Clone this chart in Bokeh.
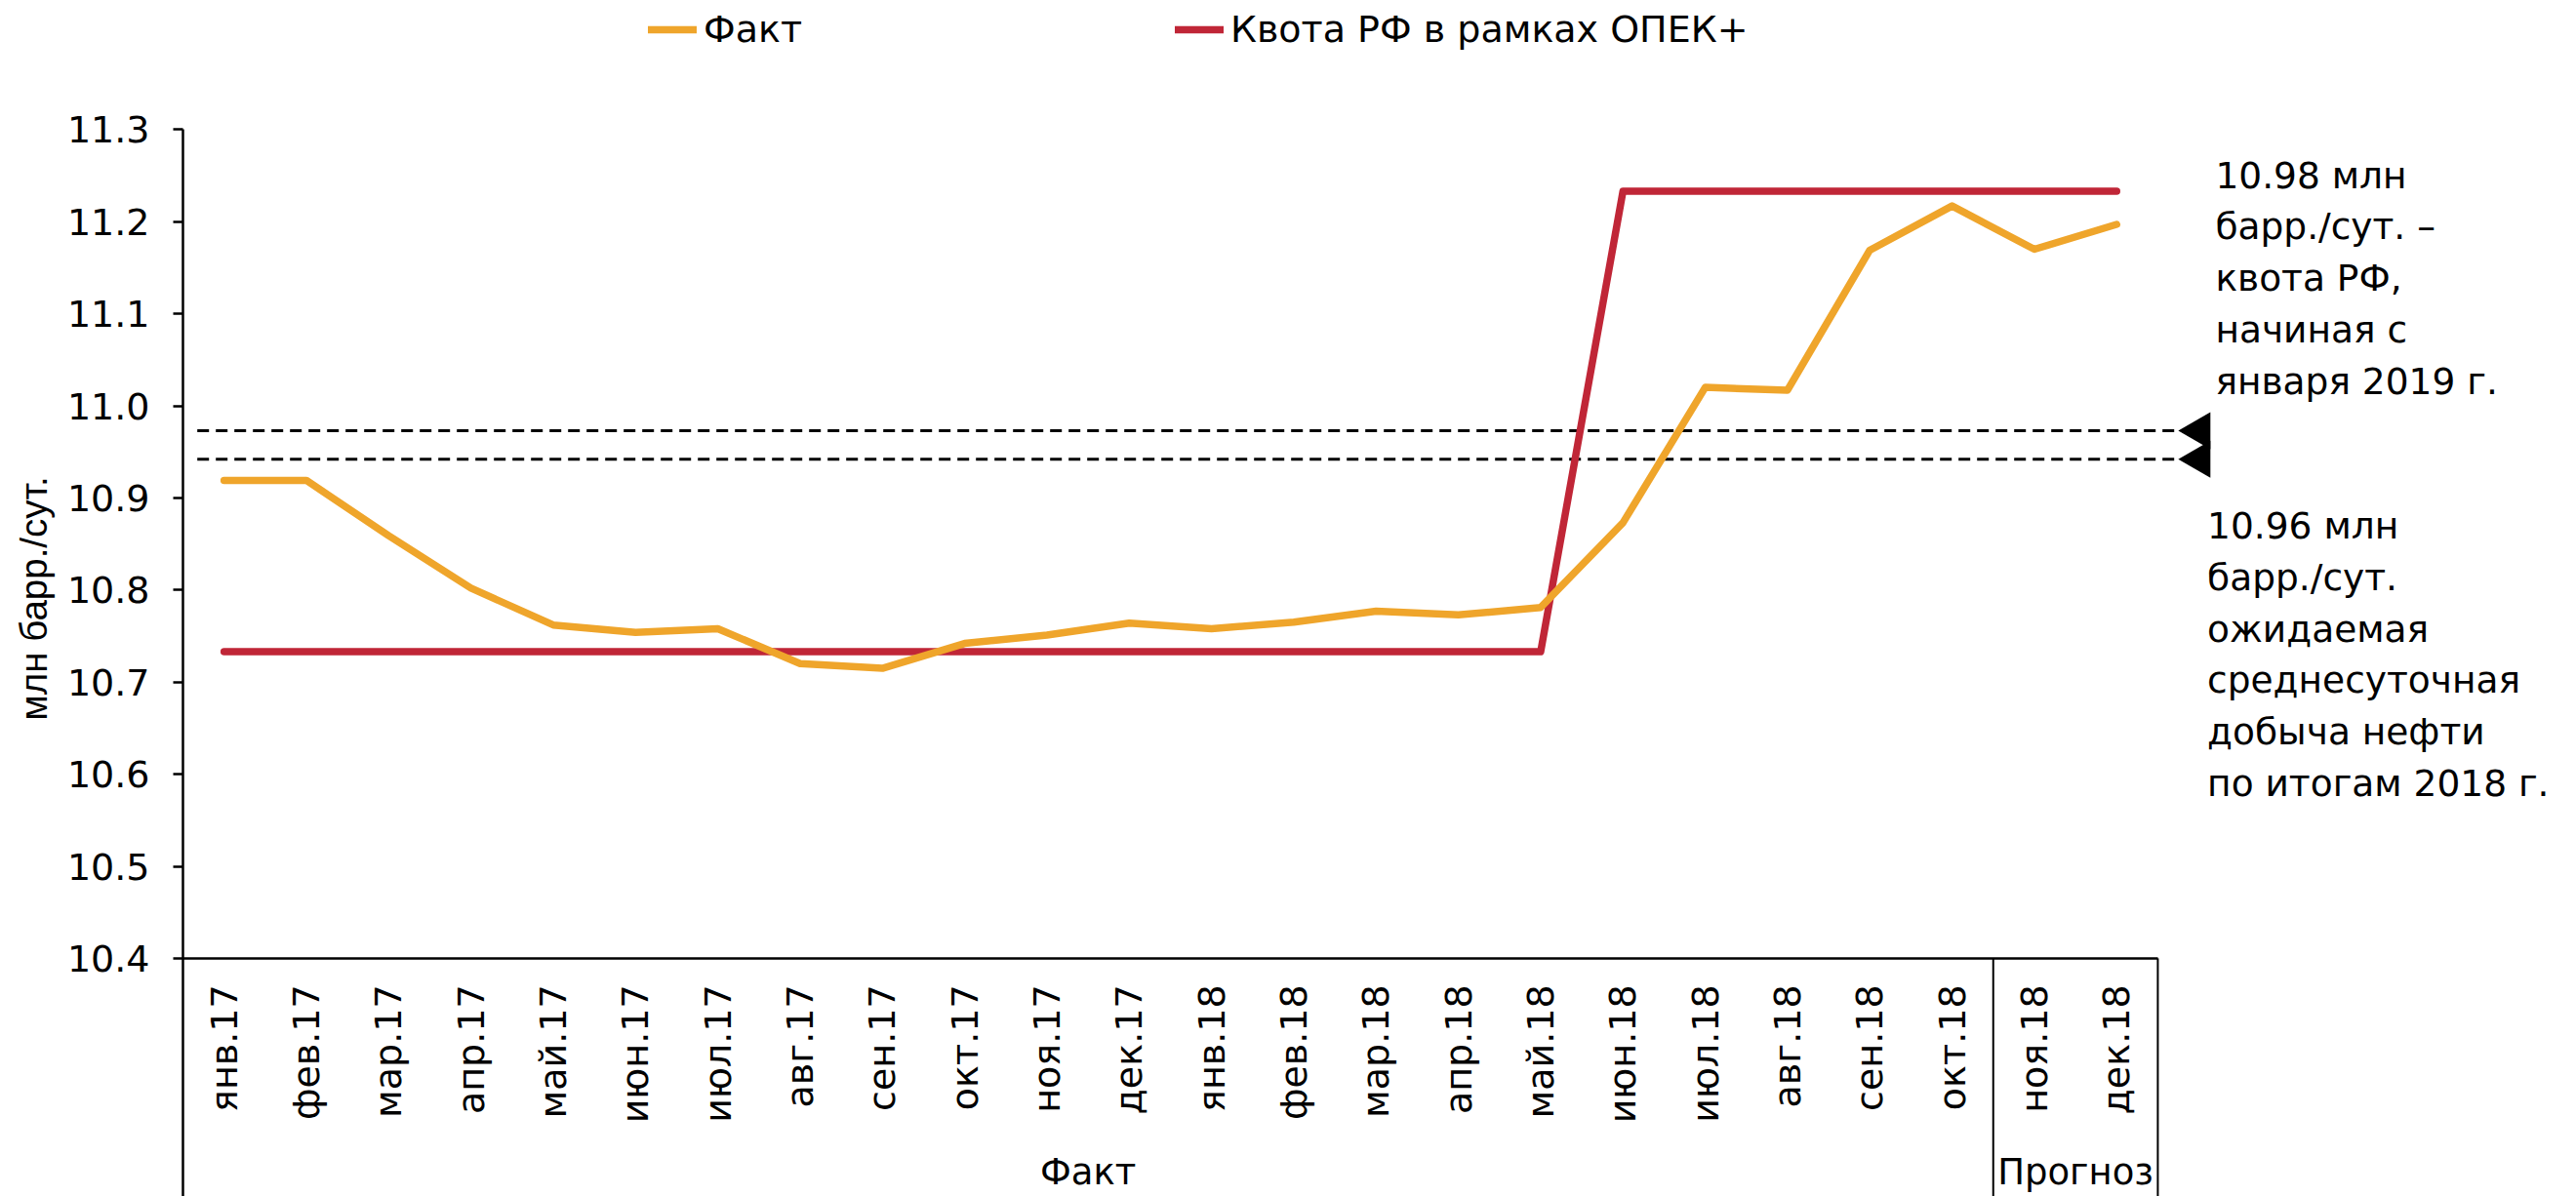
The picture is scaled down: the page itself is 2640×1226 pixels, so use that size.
import math
from bokeh.plotting import figure
from bokeh.models import (Range1d, FixedTicker, Legend, LegendItem, NumeralTickFormatter)
from bokeh.embed import file_html
from bokeh.resources import INLINE
from bokeh.core.properties import value

# ---------------- data ----------------
months = ["янв.17", "фев.17", "мар.17", "апр.17", "май.17", "июн.17",
          "июл.17", "авг.17", "сен.17", "окт.17", "ноя.17", "дек.17",
          "янв.18", "фев.18", "мар.18", "апр.18", "май.18", "июн.18",
          "июл.18", "авг.18", "сен.18", "окт.18", "ноя.18", "дек.18"]
fact = [10.919, 10.919, 10.859, 10.802, 10.762, 10.754, 10.758, 10.720,
        10.715, 10.742, 10.751, 10.764, 10.758, 10.765, 10.777, 10.773,
        10.781, 10.873, 11.020, 11.017, 11.169, 11.217, 11.170, 11.197]
quota = [10.733, 10.733, 10.733, 10.733, 10.733, 10.733, 10.733, 10.733,
         10.733, 10.733, 10.733, 10.733, 10.733, 10.733, 10.733, 10.733,
         10.733, 11.233, 11.233, 11.233, 11.233, 11.233, 11.233, 11.233]
groups = ["Факт", "Прогноз"]
group_sizes = [22, 2]
series_names = ["Факт", "Квота РФ в рамках ОПЕК+"]
y_ticks = [10.4, 10.5, 10.6, 10.7, 10.8, 10.9, 11.0, 11.1, 11.2, 11.3]
ref_levels = [10.973, 10.942]
notes = ["10.98 млн\nбарр./сут. –\nквота РФ,\nначиная с\nянваря 2019 г.",
         "10.96 млн\nбарр./сут.\nожидаемая\nсреднесуточная\nдобыча нефти\nпо итогам 2018 г."]
y_title = "млн барр./сут."

# ---------------- geometry / style ----------------
FONT = "DejaVu Sans"
TITLE_FONT = "Liberation Sans"
ORANGE = "#EFA52B"
RED = "#C02637"
W, H = 2640, 1226
LEFT = 187
PX_CAT = 84.33          # pixels per category
PX_Y = 944.0            # pixels per 1.0 of y
Y_TOP = 11.3 + 132.3 / PX_Y
Y_BOT = Y_TOP - H / PX_Y
X_END = (W - LEFT) / PX_CAT
n = len(months)
xs = [i + 0.5 for i in range(n)]

p = figure(width=W, height=H, output_backend="svg", toolbar_location=None,
           x_range=Range1d(0, X_END), y_range=Range1d(Y_BOT, Y_TOP),
           min_border_left=LEFT, min_border_right=0, min_border_top=0,
           min_border_bottom=0)
p.outline_line_color = None
p.xgrid.grid_line_color = None
p.ygrid.grid_line_color = None

# y axis
ya = p.yaxis[0]
ya.ticker = FixedTicker(ticks=y_ticks)
ya.formatter = NumeralTickFormatter(format="0.0")
ya.bounds = (Y_BOT, y_ticks[-1])
ya.axis_line_width = 2.5
ya.axis_line_color = "black"
ya.major_tick_line_width = 2.5
ya.major_tick_in = 0
ya.major_tick_out = 10
ya.minor_tick_line_color = None
ya.major_label_standoff = 24
ya.major_label_text_font = FONT
ya.major_label_text_font_size = "38px"
ya.major_label_text_color = "black"
ya.axis_label = y_title
ya.axis_label_text_font = TITLE_FONT
ya.axis_label_text_font_size = "38.5px"
ya.axis_label_text_font_style = "normal"
ya.axis_label_text_color = "black"
ya.axis_label_standoff = 10

# x axis (fixed at the baseline)
xa = p.xaxis[0]
xa.fixed_location = y_ticks[0]
xa.bounds = (0, n)
xa.ticker = FixedTicker(ticks=xs)
xa.major_label_overrides = {x: m for x, m in zip(xs, months)}
xa.major_label_orientation = math.pi / 2
xa.axis_line_width = 2.5
xa.axis_line_color = "black"
xa.major_tick_line_color = None
xa.major_tick_in = 0
xa.major_tick_out = 0
xa.minor_tick_line_color = None
xa.major_label_standoff = 27
xa.major_label_text_font = FONT
xa.major_label_text_font_size = "38px"
xa.major_label_text_color = "black"

# group separators and labels
bounds = []
acc = 0
for s in group_sizes:
    acc += s
    bounds.append(acc)
p.segment(x0=bounds, x1=bounds, y0=[y_ticks[0]] * len(bounds),
          y1=[Y_BOT] * len(bounds), line_color="black", line_width=2)
starts = [b - s for b, s in zip(bounds, group_sizes)]
mids = [(a + b) / 2 for a, b in zip(starts, bounds)]
p.text(x=mids, y=[11.3 - (1201 - 132.3) / PX_Y] * len(mids), text=groups,
       text_align="center", text_baseline="middle",
       text_font=value(FONT), text_font_size="37px", text_color="black")

# reference dashed lines and triangles
x_dash0 = (201.7 - LEFT) / PX_CAT
x_dash1 = (2232 - LEFT) / PX_CAT
for lvl in ref_levels:
    p.line(x=[x_dash0, x_dash1], y=[lvl, lvl], line_color="black",
           line_width=3, line_dash="12 7")
p.scatter(x=[n + (2253.9 - 2211) / PX_CAT] * len(ref_levels), y=ref_levels,
          marker="triangle", size=38, angle=math.pi / 2, fill_color="black",
          line_color="black", line_width=0)

# series
r_quota = p.line(x=xs, y=quota, line_color=RED, line_width=7.5,
                 line_cap="round", line_join="round")
r_fact = p.line(x=xs, y=fact, line_color=ORANGE, line_width=7.5,
                line_cap="round", line_join="round")

# notes on the right
p.text(x=[n + (2270 - 2211) / PX_CAT, n + (2261.7 - 2211) / PX_CAT],
       y=[11.3 - (157 - 132.3) / PX_Y, 11.3 - (516.5 - 132.3) / PX_Y],
       text=notes, text_align="left", text_baseline="top",
       text_font=value(FONT), text_font_size="37.5px", text_color="black",
       text_line_height=1.2)

# legend
legend = Legend(items=[LegendItem(label=series_names[0], renderers=[r_fact]),
                       LegendItem(label=series_names[1], renderers=[r_quota])],
                orientation="horizontal", location=(664 - LEFT, H - 30 - 22),
                glyph_width=50, glyph_height=40, label_standoff=7,
                label_width=483, spacing=0, padding=0, margin=0,
                border_line_color=None, background_fill_alpha=0,
                label_text_font=FONT, label_text_font_size="38px",
                label_text_color="black")
p.add_layout(legend)

open("out.html", "w").write(file_html(p, INLINE))
